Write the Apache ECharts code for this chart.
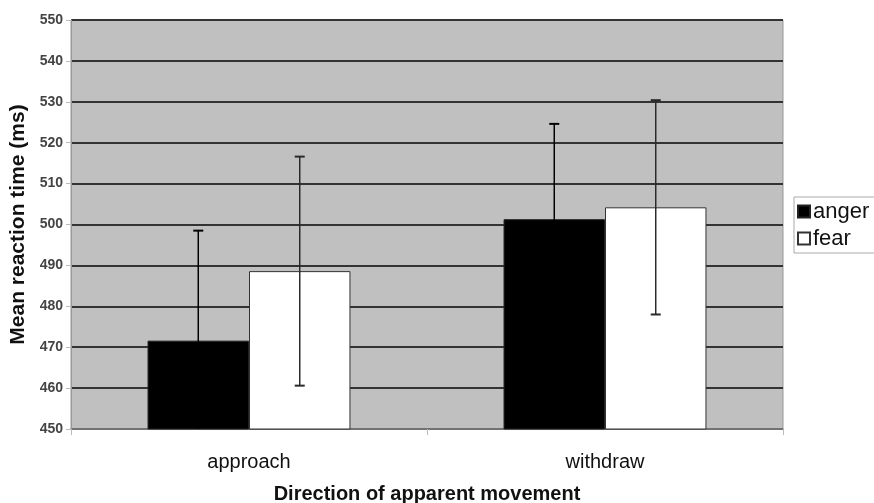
<!DOCTYPE html>
<html>
<head>
<meta charset="utf-8">
<script src="https://cdn.jsdelivr.net/npm/echarts@6/dist/echarts.min.js"></script>
<style>html,body{margin:0;padding:0;background:#fff}#c{width:874px;height:503px}</style>
</head>
<body>
<div id="c"></div>
<script>
var categories = ['approach', 'withdraw'];
var seriesNames = ['anger', 'fear'];
var angerMean = [471.6, 501.3];
var fearMean = [488.6, 504.2];
var angerErr = [26.9, 23.3];
var fearErr = [28.0, 26.2];
var yTicks = [450, 460, 470, 480, 490, 500, 510, 520, 530, 540, 550];

var yMin = 450, yMax = 550;
var catGap = 0.43;
var means = [angerMean, fearMean];
var errs = [angerErr, fearErr];

var errData = [];
for (var s = 0; s < 2; s++) {
  for (var i = 0; i < categories.length; i++) {
    errData.push([i, means[s][i] - errs[s][i], means[s][i] + errs[s][i], s]);
  }
}

var chart = echarts.init(document.getElementById('c'), null, {renderer: 'canvas'});
var font = 'Liberation Sans, Arial, sans-serif';
chart.setOption({
  animation: false,
  backgroundColor: '#fff',
  grid: {left: 71, right: 91, top: 20, bottom: 74, show: true, backgroundColor: '#c0c0c0', borderColor: '#999', borderWidth: 1,
         containLabel: false, outerBoundsMode: 'none'},
  legend: {
    data: seriesNames,
    orient: 'vertical',
    left: 794, top: 197,
    padding: [3, 30, 3, 3],
    borderColor: '#aaa', borderWidth: 1,
    itemWidth: 12, itemHeight: 12, itemGap: 4,
    icon: 'rect',
    textStyle: {fontFamily: font, fontSize: 22, color: '#111', padding: [0, 0, 0, -2], lineHeight: 23}
  },
  xAxis: {
    type: 'category',
    data: categories,
    axisLine: {lineStyle: {color: '#888', width: 1.5}},
    axisTick: {show: true, length: 6, lineStyle: {color: '#bbb'}},
    axisLabel: {fontFamily: font, fontSize: 20, color: '#111', margin: 23},
    name: 'Direction of apparent movement',
    nameLocation: 'middle',
    nameGap: 55,
    nameTextStyle: {fontFamily: font, fontSize: 20, fontWeight: 'bold', color: '#111'}
  },
  yAxis: {
    type: 'value',
    min: yMin, max: yMax, interval: 10,
    axisLine: {show: true, lineStyle: {color: '#999'}},
    axisTick: {show: true, length: 5, lineStyle: {color: '#bbb'}},
    axisLabel: {fontFamily: font, fontSize: 14, fontWeight: 'bold', color: '#444', margin: 8,
      formatter: function (v) { return yTicks.indexOf(v) >= 0 ? String(v) : ''; }},
    splitLine: {show: true, lineStyle: {color: '#333', width: 2}},
    name: 'Mean reaction time (ms)',
    nameLocation: 'middle',
    nameGap: 41,
    nameTextStyle: {fontFamily: font, fontSize: 21, fontWeight: 'bold', color: '#111'}
  },
  series: [
    {name: 'anger', type: 'bar', data: angerMean, barGap: '0%', barCategoryGap: (catGap * 100) + '%',
     itemStyle: {color: '#000', borderColor: '#222', borderWidth: 1}},
    {name: 'fear', type: 'bar', data: fearMean, barGap: '0%', barCategoryGap: (catGap * 100) + '%',
     itemStyle: {color: '#fff', borderColor: '#333', borderWidth: 1}},
    {type: 'custom', name: 'err', data: errData, z: 5, silent: true,
     renderItem: function (params, api) {
       var ci = api.value(0), lo = api.value(1), hi = api.value(2), s = api.value(3);
       var band = api.size([1, 0])[0];
       var barW = band * (1 - catGap) / 2;
       var cx = api.coord([ci, hi])[0] + (s === 0 ? -barW / 2 : barW / 2);
       var yHi = api.coord([ci, Math.min(hi, yMax)])[1];
       var yLo = api.coord([ci, Math.max(lo, yMin)])[1];
       var col = s === 0 ? '#000' : '#2a2a2a';
       var children = [
         {type: 'line', shape: {x1: cx, y1: yHi, x2: cx, y2: yLo}, style: {stroke: col, lineWidth: 1.5}},
         {type: 'line', shape: {x1: cx - 5, y1: yHi, x2: cx + 5, y2: yHi}, style: {stroke: col, lineWidth: 2}}
       ];
       if (lo >= yMin) {
         children.push({type: 'line', shape: {x1: cx - 5, y1: yLo, x2: cx + 5, y2: yLo}, style: {stroke: col, lineWidth: 2}});
       }
       return {type: 'group', children: children};
     }}
  ]
});
</script>
</body>
</html>
